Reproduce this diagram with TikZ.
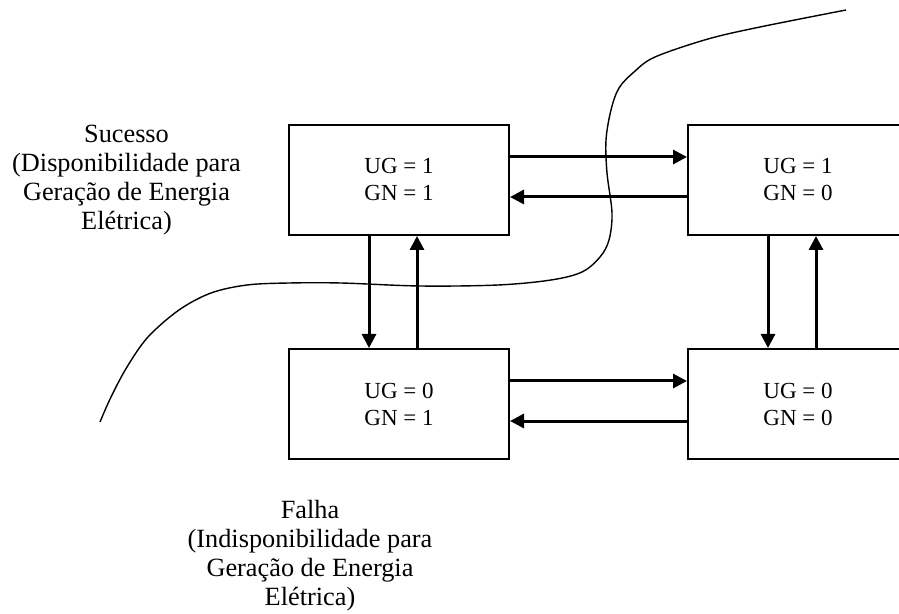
\documentclass[tikz,border=0pt]{standalone}
\usepackage{fontspec}
\setmainfont{Liberation Serif}
\usetikzlibrary{arrows.meta}
\begin{document}
\begin{tikzpicture}[x=0.5pt,y=-0.5pt,
  state/.style={draw, line width=1pt, minimum width=110pt, minimum height=55pt,
    inner sep=0pt, align=center, font=\fontsize{11.5}{13.5}\selectfont},
  flow/.style={line width=1.5pt, -{Triangle[length=7pt,width=7pt]}},
  caption/.style={align=center, font=\fontsize{13.15}{14.5}\selectfont},
  border/.style={line width=0.7pt}]
\clip (0,0) rectangle (899,614);

% the four states of the generating unit (UG) and the gas supply (GN)
\node[state] (s11) at (399,180) {UG = 1\\GN = 1};
\node[state] (s10) at (798,180) {UG = 1\\GN = 0};
\node[state] (s01) at (399,404) {UG = 0\\GN = 1};
\node[state] (s00) at (798,404) {UG = 0\\GN = 0};

% transitions
\draw[flow] (s11.east |- 0,157) -- (s10.west |- 0,157);
\draw[flow] (s10.west |- 0,197) -- (s11.east |- 0,197);
\draw[flow] (s01.east |- 0,381) -- (s00.west |- 0,381);
\draw[flow] (s00.west |- 0,421) -- (s01.east |- 0,421);
\draw[flow] (s11.south -| 369,0) -- (s01.north -| 369,0);
\draw[flow] (s01.north -| 417,0) -- (s11.south -| 417,0);
\draw[flow] (s10.south -| 768,0) -- (s00.north -| 768,0);
\draw[flow] (s00.north -| 816,0) -- (s10.south -| 816,0);

% success / failure regions
\node[caption] (sucesso) at (126.5,180) {Sucesso\\(Disponibilidade para\\Geração de Energia\\Elétrica)};
\node[caption] (falha) at (310,556) {Falha\\(Indisponibilidade para\\Geração de Energia\\Elétrica)};

% boundary between the two regions
\draw[border] plot[smooth, tension=0.55] coordinates {
  (846,10) (760,27) (708,39) (655,57) (634,72) (619,88) (611,110)
  (606,140) (607,173) (612,213) (609,240) (600,257) (582,272) (551,280)
  (498,285) (420,286) (341,283) (289,283) (247,285) (211,293) (179,310)
  (148,337) (127,367) (111,397) (100,422)};
\end{tikzpicture}
\end{document}
